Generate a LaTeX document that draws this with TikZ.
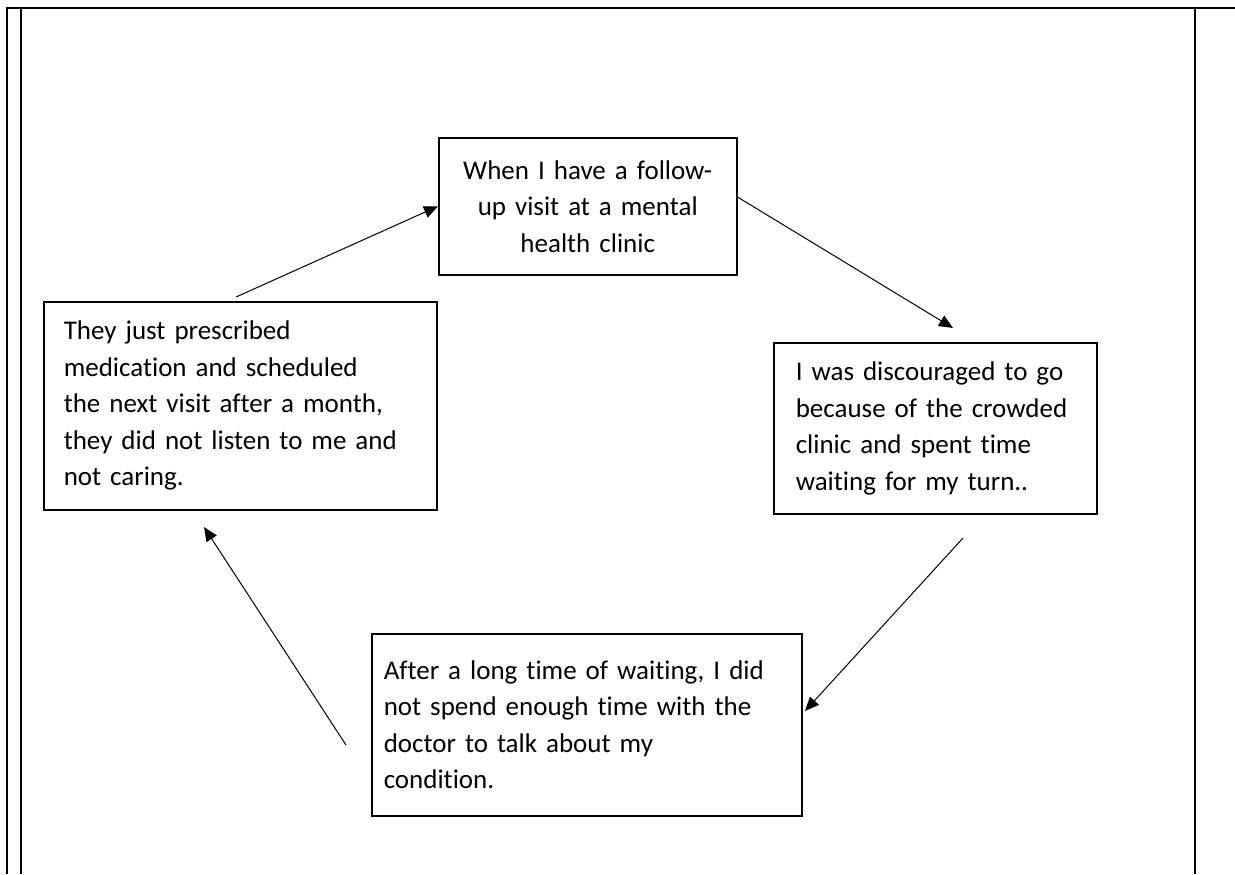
\documentclass[tikz,border=0pt]{standalone}
\usepackage{fontspec}
\setmainfont[Ligatures=NoCommon]{Carlito}
\usepackage{tikz}
\usetikzlibrary{arrows.meta}

\begin{document}
\begin{tikzpicture}[x=0.5pt,y=-0.5pt,>={Triangle[length=7pt,width=6pt]},
    box/.style={draw,line width=0.75pt,anchor=north west,inner ysep=0pt,
        font=\fontsize{13.5}{18.25}\selectfont},
    frame/.style={line width=1pt}]
            \useasboundingbox (0,0) rectangle (1235,874);
            % page frame
            \draw[line width=1.25pt] (6,8) -- (1195,8);
            \draw[frame] (1195,8) -- (1235,8);
            \draw[frame] (7,7) -- (7,874);
            \draw[frame] (21,8) -- (21,874);
            \draw[frame] (1195,8) -- (1195,874);

            \node[box, inner xsep=8pt, text width=133pt, minimum height=68.5pt, align=center]
                (c0) at (438,137) {When I have a follow-\\up visit at a mental\\health clinic\\[3pt]};
            \node[box, inner xsep=11pt, text width=139.5pt, minimum height=85.5pt, align=left]
                (c1) at (773,342) {I was discouraged to go\\because of the crowded\\clinic and spent time\\waiting for my turn..};
            \node[box, inner xsep=6pt, text width=203pt, minimum height=91pt, align=left]
                (c2) at (371,633) {After a long time of waiting, I did\\not spend enough time with the\\doctor to talk about my\\condition.};
            \node[box, inner xsep=10pt, text width=176.5pt, minimum height=104pt, align=left]
                (c3) at (43,301) {They just prescribed\\medication and scheduled\\the next visit after a month,\\they did not listen to me and\\not caring.};

            \coordinate (s1) at (953,328);
            \coordinate (s2) at (963,538);
            \coordinate (t2) at (805,711);
            \coordinate (s3) at (346,745);
            \coordinate (t3) at (204,527);
            \coordinate (s0) at (236,297);

            \path[->,line width=0.5pt]
                (s0) edge (c0.west)
                (c0.east |- 0,197) edge (s1)
                (s2) edge (t2)
                (s3) edge (t3)
                ;
        \end{tikzpicture}
\end{document}
